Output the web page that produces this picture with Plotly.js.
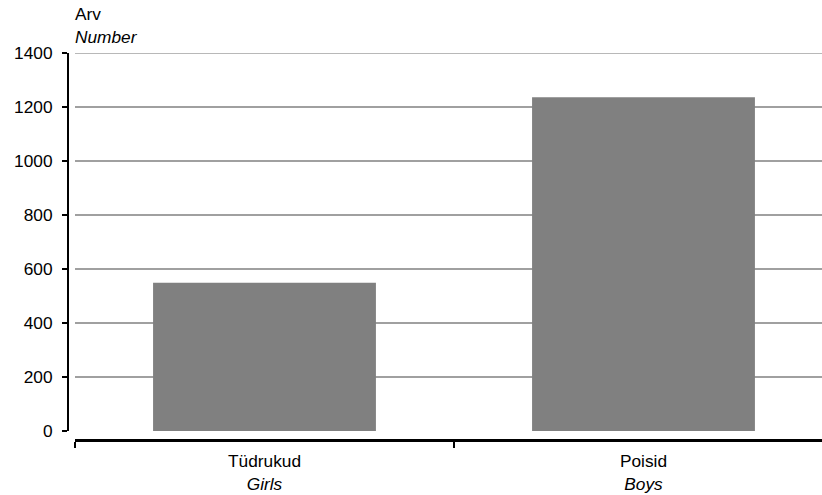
<!DOCTYPE html>
<html>
<head>
<meta charset="utf-8">
<script src="https://cdn.plot.ly/plotly-3.0.1.min.js"></script>
<style>html,body{margin:0;padding:0;background:#fff;}#chart{width:822px;height:495px;}</style>
</head>
<body>
<div id="chart"></div>
<script>
var categories = ["Tüdrukud", "Poisid"];
var categoriesEn = ["Girls", "Boys"];
var values = [549, 1236];
var yTickValues = [0, 200, 400, 600, 800, 1000, 1200, 1400];

var FONT = "Liberation Sans, Arial, sans-serif";
var FS = 17.3;
var ticktext = categories.map(function (c, i) {
  return "<span style='font-size:" + FS + "px'>" + c + "</span><br><span style='font-size:" + FS + "px'><i>" + categoriesEn[i] + "</i></span>";
});

var trace = {
  type: "bar",
  x: categories,
  y: values,
  width: 0.588,
  marker: {color: "#808080", line: {width: 0}},
  hoverinfo: "none"
};

var layout = {
  width: 822,
  height: 495,
  margin: {l: 60, r: 0, t: 53, b: 40, pad: 0},
  paper_bgcolor: "#ffffff",
  plot_bgcolor: "#ffffff",
  showlegend: false,
  font: {family: FONT, size: FS, color: "#000000"},
  xaxis: {
    type: "category",
    domain: [15 / 762, 1],
    anchor: "free",
    position: 15 / 402,
    range: [-0.5, 1.471],
    showline: true,
    linecolor: "#000000",
    linewidth: 2.5,
    ticks: "outside",
    ticklen: 6,
    tickwidth: 1.5,
    tickcolor: "#000000",
    tickson: "boundaries",
    tickvals: categories,
    ticktext: ticktext,
    ticklabelstandoff: 4,
    tickfont: {family: FONT, size: 17.7, color: "#000000"},
    showgrid: false,
    zeroline: false,
    fixedrange: true
  },
  yaxis: {
    domain: [24 / 402, 1],
    anchor: "free",
    position: 8 / 762,
    range: [0, 1400],
    tickvals: yTickValues,
    showline: true,
    linecolor: "#000000",
    linewidth: 2,
    ticks: "outside",
    ticklen: 5,
    tickwidth: 1.5,
    tickcolor: "#000000",
    ticklabelstandoff: 6,
    tickfont: {family: FONT, size: FS, color: "#000000"},
    showgrid: true,
    gridcolor: "#a0a0a0",
    gridwidth: 1.5,
    zeroline: false,
    fixedrange: true
  },
  shapes: [
    {type: "line", xref: "x domain", yref: "y", x0: 0, x1: 1, y0: yTickValues[yTickValues.length - 1], y1: yTickValues[yTickValues.length - 1],
     line: {color: "#a0a0a0", width: 1.5}, layer: "below"}
  ],
  annotations: [
    {xref: "paper", yref: "paper", x: 13 / 762, y: (455 - 14) / 402, xanchor: "left", yanchor: "middle",
     text: "Arv", showarrow: false, font: {family: FONT, size: FS, color: "#000000"}},
    {xref: "paper", yref: "paper", x: 13 / 762, y: (455 - 37.5) / 402, xanchor: "left", yanchor: "middle",
     text: "<i>Number</i>", showarrow: false, font: {family: FONT, size: FS, color: "#000000"}}
  ]
};

Plotly.newPlot("chart", [trace], layout, {displayModeBar: false, staticPlot: true});
</script>
</body>
</html>
